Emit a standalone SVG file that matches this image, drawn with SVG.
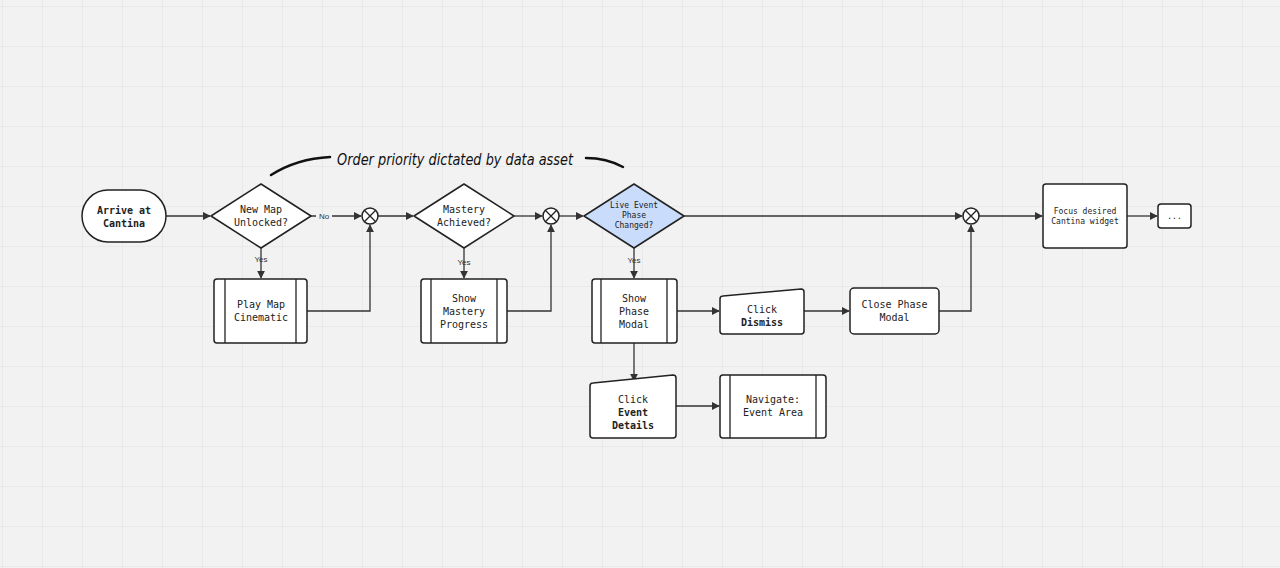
<svg xmlns="http://www.w3.org/2000/svg" width="1280" height="568" viewBox="0 0 1280 568">
<defs>
<pattern id="grid" width="40" height="40" patternUnits="userSpaceOnUse" x="2" y="6">
<path d="M40 0H0V40" fill="none" stroke="#e0e0e0" stroke-width="1"/>
</pattern>
<marker id="ah" viewBox="0 0 10 10" refX="9" refY="5" markerWidth="8" markerHeight="8" markerUnits="userSpaceOnUse" orient="auto">
<path d="M0 0L10 5L0 10z" fill="#333"/>
</marker>
<style>
.n{fill:#fff;stroke:#222;stroke-width:1.5}
.t{font-family:"DejaVu Sans Mono","Liberation Mono",monospace;font-size:10px;fill:#222;text-anchor:middle}
.b{font-weight:bold}
.s{font-size:8px}
.c{fill:none;stroke:#333;stroke-width:1.3}
.l{font-family:"Liberation Sans",sans-serif;font-size:8px;fill:#333;text-anchor:middle}
</style>
</defs>
<rect width="1280" height="568" fill="#f2f2f2"/>
<rect width="1280" height="568" fill="url(#grid)"/>
<g id="connectors">
<path class="c" d="M166 216H210" marker-end="url(#ah)"/>
<path class="c" d="M311 216H316M332 216H361" marker-end="url(#ah)"/>
<path class="c" d="M261 248V278" marker-end="url(#ah)"/>
<path class="c" d="M307 311H370V225" marker-end="url(#ah)"/>
<path class="c" d="M378 216H413" marker-end="url(#ah)"/>
<path class="c" d="M464 248V278" marker-end="url(#ah)"/>
<path class="c" d="M514 216H542" marker-end="url(#ah)"/>
<path class="c" d="M507 311H551V225" marker-end="url(#ah)"/>
<path class="c" d="M559 216H583" marker-end="url(#ah)"/>
<path class="c" d="M684 216H962" marker-end="url(#ah)"/>
<path class="c" d="M634 248V278" marker-end="url(#ah)"/>
<path class="c" d="M677 311H719" marker-end="url(#ah)"/>
<path class="c" d="M804 311H849" marker-end="url(#ah)"/>
<path class="c" d="M939 311H971V225" marker-end="url(#ah)"/>
<path class="c" d="M634 343V381" marker-end="url(#ah)"/>
<path class="c" d="M676 406H719" marker-end="url(#ah)"/>
<path class="c" d="M979 216H1042" marker-end="url(#ah)"/>
<path class="c" d="M1127 216H1157" marker-end="url(#ah)"/>
<text class="l" x="324" y="219">No</text>
<text class="l" x="261" y="262">Yes</text>
<text class="l" x="464" y="265">Yes</text>
<text class="l" x="634" y="263">Yes</text>
</g>
<g id="annotation">
<path d="M271 175C290 163 310 158 330 157" fill="none" stroke="#111" stroke-width="2.5" stroke-linecap="round"/>
<path d="M586 158C600 158 612 161 623 167" fill="none" stroke="#111" stroke-width="2.5" stroke-linecap="round"/>
<text x="337" y="165" font-family="'DejaVu Sans',sans-serif" font-style="italic" font-size="15" fill="#111" textLength="236" lengthAdjust="spacingAndGlyphs">Order priority dictated by data asset</text>
</g>
<g id="arrive"><rect class="n" x="82" y="190" width="84" height="52" rx="26"/><text class="t b" x="124" y="214">Arrive at</text><text class="t b" x="124" y="227">Cantina</text></g>
<g id="d1"><path class="n" d="M261 184L311 216L261 248L211 216Z" stroke-linejoin="round"/><text class="t" x="261" y="213">New Map</text><text class="t" x="261" y="226">Unlocked?</text></g>
<g id="j1"><circle class="n" cx="370" cy="216" r="8"/><path d="M364.3 210.3L375.7 221.7M375.7 210.3L364.3 221.7" stroke="#222" stroke-width="1.3"/></g>
<g id="d2"><path class="n" d="M464 184L514 216L464 248L414 216Z" stroke-linejoin="round"/><text class="t" x="464" y="213">Mastery</text><text class="t" x="464" y="226">Achieved?</text></g>
<g id="j2"><circle class="n" cx="551" cy="216" r="8"/><path d="M545.3 210.3L556.7 221.7M556.7 210.3L545.3 221.7" stroke="#222" stroke-width="1.3"/></g>
<g id="d3"><path class="n" d="M634 184L684 216L634 248L584 216Z" style="fill:#c9dcfb" stroke-linejoin="round"/><text class="t s" x="634" y="208">Live Event</text><text class="t s" x="634" y="218">Phase</text><text class="t s" x="634" y="228">Changed?</text></g>
<g id="j3"><circle class="n" cx="971" cy="216" r="8"/><path d="M965.3 210.3L976.7 221.7M976.7 210.3L965.3 221.7" stroke="#222" stroke-width="1.3"/></g>
<g id="focus"><rect class="n" x="1043" y="184" width="84" height="64" rx="3"/><text class="t s" x="1085" y="214">Focus desired</text><text class="t s" x="1085" y="224">Cantina widget</text></g>
<g id="more"><rect class="n" x="1158" y="204" width="33" height="24" rx="3"/><text class="t s" x="1174.5" y="219">...</text></g>
<g id="playmap"><rect class="n" x="214" y="279" width="93" height="64" rx="3"/><path d="M225 279V343M296 279V343" stroke="#222" stroke-width="1.3"/><text class="t" x="261" y="308">Play Map</text><text class="t" x="261" y="321">Cinematic</text></g>
<g id="mastery"><rect class="n" x="421" y="279" width="86" height="64" rx="3"/><path d="M431 279V343M497 279V343" stroke="#222" stroke-width="1.3"/><text class="t" x="464" y="302">Show</text><text class="t" x="464" y="315">Mastery</text><text class="t" x="464" y="328">Progress</text></g>
<g id="phase"><rect class="n" x="592" y="279" width="85" height="64" rx="3"/><path d="M601 279V343M667 279V343" stroke="#222" stroke-width="1.3"/><text class="t" x="634" y="302">Show</text><text class="t" x="634" y="315">Phase</text><text class="t" x="634" y="328">Modal</text></g>
<g id="dismiss"><path class="n" d="M723 296L801 289Q804 289 804 292V331Q804 334 801 334H723Q720 334 720 331V299Q720 296 723 296Z"/><text class="t" x="762" y="313">Click</text><text class="t b" x="762" y="326">Dismiss</text></g>
<g id="close"><rect class="n" x="850" y="288" width="89" height="46" rx="4"/><text class="t" x="894.5" y="308">Close Phase</text><text class="t" x="894.5" y="321">Modal</text></g>
<g id="details"><path class="n" d="M593 383L673 375Q676 375 676 378V435Q676 438 673 438H593Q590 438 590 435V386Q590 383 593 383Z"/><text class="t" x="633" y="403">Click</text><text class="t b" x="633" y="416">Event</text><text class="t b" x="633" y="429">Details</text></g>
<g id="navigate"><rect class="n" x="720" y="375" width="106" height="63" rx="3"/><path d="M730 375V438M816 375V438" stroke="#222" stroke-width="1.3"/><text class="t" x="773" y="403">Navigate:</text><text class="t" x="773" y="416">Event Area</text></g>
</svg>
